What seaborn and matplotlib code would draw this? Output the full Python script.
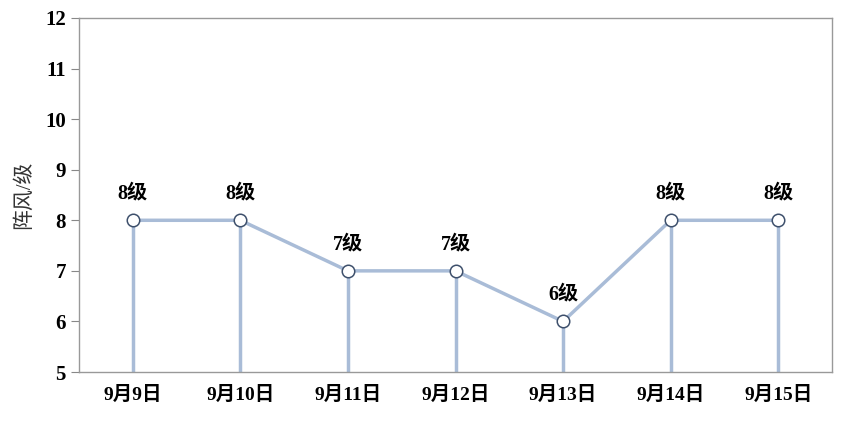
import matplotlib
matplotlib.use('Agg')
import matplotlib.pyplot as plt
import seaborn as sns
import numpy as np
import pandas as pd

dates = ['9月9日', '9月10日', '9月11日', '9月12日', '9月13日', '9月14日', '9月15日']
gust = [8, 8, 7, 7, 6, 8, 8]
labels = ['8级', '8级', '7级', '7级', '6级', '8级', '8级']

sns.set_style('white')
plt.rcParams['font.family'] = ['Liberation Serif', 'Noto Sans CJK SC']
plt.rcParams['text.color'] = 'black'
plt.rcParams['xtick.color'] = 'black'
plt.rcParams['ytick.color'] = 'black'

df = pd.DataFrame({'pos': np.arange(len(dates)), 'gust': gust})

fig = plt.figure(figsize=(8.49, 4.3), dpi=100)
ax = fig.add_axes([79 / 849, 1 - 372 / 430, (832 - 79) / 849, (372 - 18) / 430])

line_col = '#a9bcd7'
ax.vlines(df.pos, 5, df.gust, color=line_col, lw=2.5, zorder=1)
sns.lineplot(data=df, x='pos', y='gust', ax=ax, color=line_col, lw=2.5,
             marker='o', markersize=9, markerfacecolor='white',
             markeredgecolor='#3e506c', markeredgewidth=1.1, zorder=2)
for p, v, t in zip(df.pos, df.gust, labels):
    ax.text(p, v + 0.33, t, ha='center', va='bottom', fontsize=14.5,
            fontweight='bold', color='black')

ax.set_xlim(-0.5, len(dates) - 0.5)
ax.set_ylim(5, 12)
ax.set_yticks(range(5, 13))
ax.set_yticklabels([str(i) for i in range(5, 13)], fontsize=15, fontweight='bold')
ax.set_xticks(df.pos)
ax.set_xticklabels(dates, fontsize=14, fontweight='bold')
ax.set_xticks(np.arange(-0.5, len(dates)), minor=True)
ax.tick_params(axis='x', which='major', length=0, pad=10, colors='black')
ax.tick_params(axis='x', which='minor', length=7, color='#888888', direction='out')
ax.tick_params(axis='y', length=6, color='#888888', labelcolor='black', direction='out', left=True)
ax.set_xlabel('')
ax.set_ylabel('阵风/级', fontsize=15, color='#333333', labelpad=8)
for s in ax.spines.values():
    s.set_color('#999999')
    s.set_linewidth(1)

fig.savefig('out.png', dpi=100)
